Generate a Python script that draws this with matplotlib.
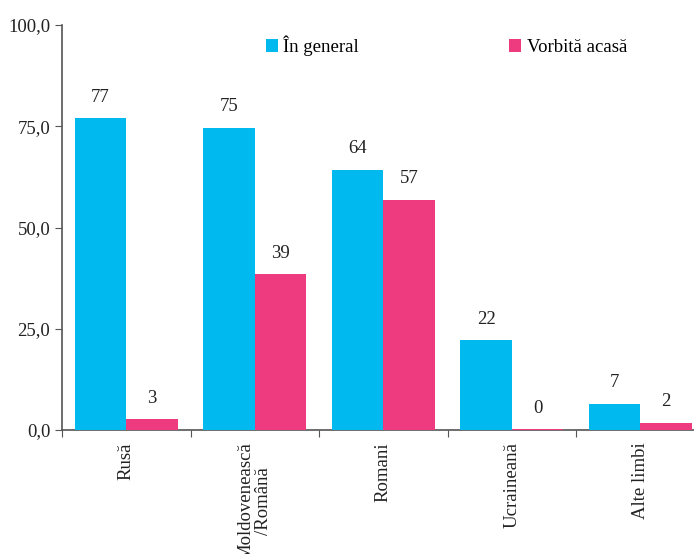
import numpy as np
import matplotlib
matplotlib.use('Agg')
import matplotlib.pyplot as plt
from matplotlib.ticker import FixedLocator, NullFormatter, FuncFormatter

plt.rcParams['font.family'] = ['Liberation Serif', 'DejaVu Serif']

categories = ['Rusă', 'Moldovenească\n/Română', 'Romani', 'Ucraineană', 'Alte limbi']
general = [77.0, 74.6, 64.2, 22.2, 6.5]
home = [2.7, 38.5, 56.8, 0.2, 1.8]
general_labels = ['77', '75', '64', '22', '7']
home_labels = ['3', '39', '57', '0', '2']

blue = '#00B9EF'
pink = '#EE3A7E'
axis_col = '#555555'
fs = 13.5

fig = plt.figure(figsize=(6.94, 5.54), dpi=100)
ax = fig.add_axes([62 / 694, 124 / 554, 642.5 / 694, 405 / 554])

x = np.arange(len(categories)) + 0.5
w = 0.4
b1 = ax.bar(x - w / 2, general, w, color=blue, label='În general')
b2 = ax.bar(x + w / 2, home, w, color=pink, label='Vorbită acasă')

for bars, labs in [(b1, general_labels), (b2, home_labels)]:
    for r, t in zip(bars, labs):
        ax.annotate(t, (r.get_x() + r.get_width() / 2, r.get_height()),
                    xytext=(0, 9), textcoords='offset points',
                    ha='center', va='bottom', fontsize=fs, color='#222222')

ax.set_xlim(0, 5)
ax.set_ylim(0, 100)
ax.set_yticks([0, 25, 50, 75, 100])
ax.yaxis.set_major_formatter(FuncFormatter(lambda v, p: f'{v:.1f}'.replace('.', ',')))
ax.xaxis.set_major_locator(FixedLocator(np.arange(0, 6)))
ax.xaxis.set_major_formatter(NullFormatter())
ax.xaxis.set_minor_locator(FixedLocator(x))
ax.set_xticklabels(categories, minor=True, rotation=90, va='top', ha='center',
                   fontsize=fs, color='#222222', linespacing=1.1)
ax.tick_params(axis='x', which='minor', length=0, pad=9)
ax.tick_params(axis='x', which='major', length=5, color=axis_col, direction='out')
ax.tick_params(axis='y', length=5, color=axis_col, labelsize=fs, labelcolor='#222222')

for s in ['top', 'right']:
    ax.spines[s].set_visible(False)
for s in ['left', 'bottom']:
    ax.spines[s].set_color(axis_col)
    ax.spines[s].set_linewidth(1.2)
ax.spines['bottom'].set_zorder(0)

fig.legend(loc='upper left', bbox_to_anchor=(258 / 694, 1 - 28 / 554), ncol=2,
           frameon=False, fontsize=fs, handlelength=0.65, handleheight=0.65,
           handletextpad=0.3, columnspacing=8.0, borderaxespad=0)

fig.savefig('out.png', dpi=100)
